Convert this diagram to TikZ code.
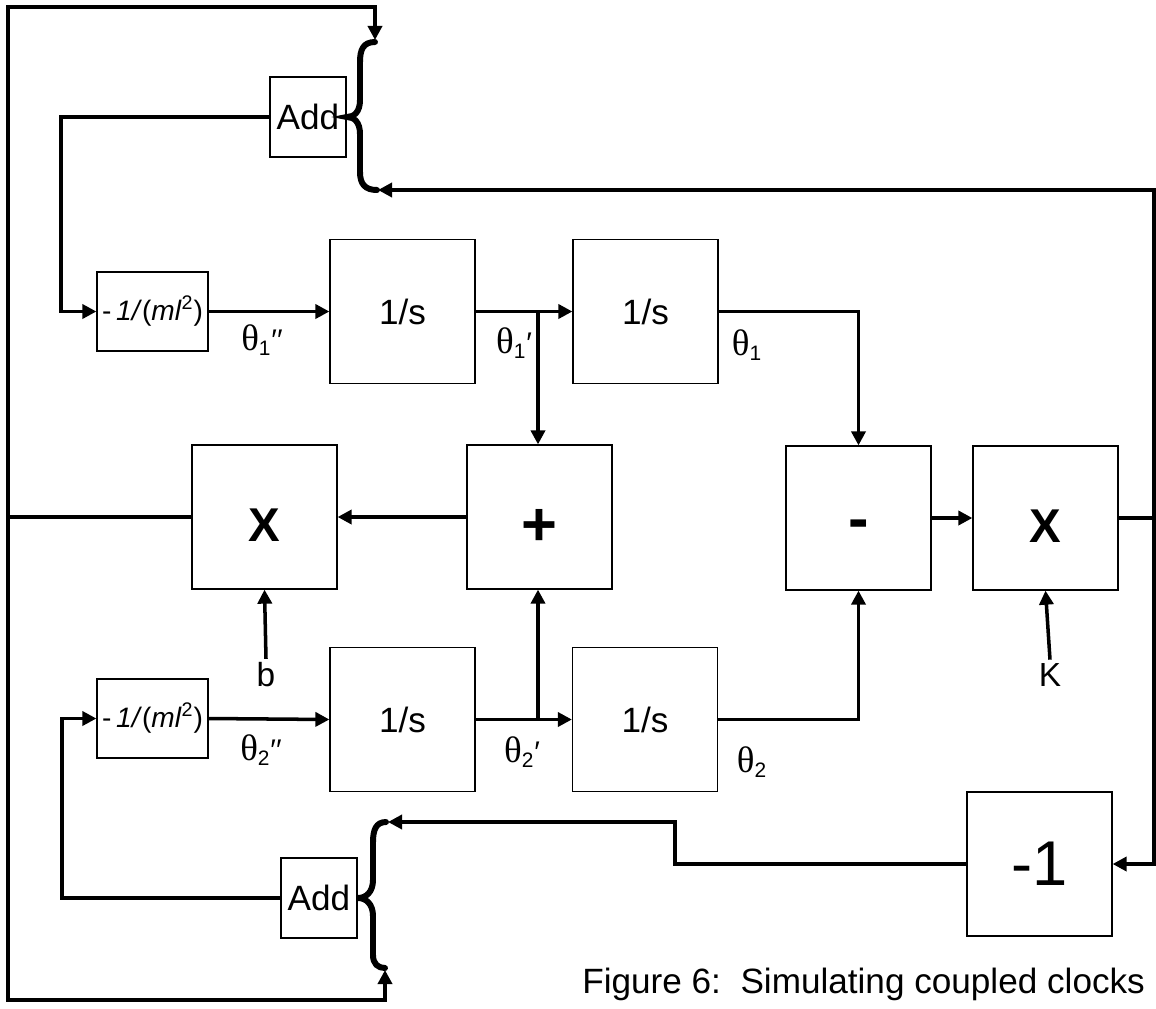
\documentclass[tikz,border=0pt]{standalone}
\usepackage{fontspec}
\setmainfont{Liberation Sans}
\newfontfamily\thfont{Liberation Serif}
\usetikzlibrary{arrows.meta,calc}
\newcommand{\thl}[2]{{\thfont\fontsize{21}{22}\selectfont θ}\textsubscript{#1}#2}
\begin{document}
\begin{tikzpicture}[x=0.02cm,y=-0.02cm,
  blk/.style={draw,line width=0.7pt,minimum width=2.9cm,minimum height=2.88cm,inner sep=0pt,font=\fontsize{20}{22}\selectfont},
  flat/.style={text height=0pt,text depth=0pt},
  big/.style={flat,font=\fontsize{27}{30}\selectfont\bfseries},
  bigger/.style={flat,font=\fontsize{35}{38}\selectfont\bfseries},
  huge/.style={font=\fontsize{36}{40}\selectfont},
  gain/.style={draw,line width=0.7pt,minimum width=2.22cm,minimum height=1.58cm,inner sep=0pt,font=\fontsize{16}{18}\selectfont},
  addb/.style={draw,line width=0.7pt,minimum width=1.52cm,minimum height=1.6cm,inner sep=0pt,font=\fontsize{20}{22}\selectfont},
  conn/.style={line width=2pt},
  arr/.style={conn,-{Triangle[length=8pt,width=8pt]}},
  brace/.style={line width=3.4pt,line cap=round},
  lbl/.style={inner sep=0pt,font=\fontsize{17}{19}\selectfont}
]
\useasboundingbox (0,0) rectangle (1156,1008);

% blocks
\node[addb] (add1) at (308,117) {Add};
\node[gain] (g1) at (152.5,311.5) {-\,\textit{1/}(\textit{ml}\textsuperscript{2})};
\node[blk] (i1) at (402.5,311.5) {1/s};
\node[blk] (i2) at (645.5,311.5) {1/s};
\node[blk,big] (x1) at (264.5,517) {\raisebox{-14pt}{X}};
\node[blk,bigger] (plus) at (539.5,517) {\raisebox{-16pt}{+}};
\node[blk,bigger] (minus) at (858.5,518) {\raisebox{-12pt}{-}};
\node[blk,big] (x2) at (1045.5,518) {\raisebox{-14pt}{X}};
\node[gain] (g2) at (152.5,718.5) {-\,\textit{1/}(\textit{ml}\textsuperscript{2})};
\node[blk] (i3) at (402.5,719.5) {1/s};
\node[blk] (i4) at (645,719.5) {1/s};
\node[blk,huge] (neg) at (1039.5,864) {-1};
\node[addb] (add2) at (319,898) {Add};

% labels
\node[lbl] (t1pp) at (262,340) {\thl{1}{′′}};
\node[lbl] (t1p) at (514,343) {\thl{1}{′}};
\node[lbl] (t1) at (747,345) {\thl{1}{}};
\node[lbl] (t2pp) at (261,750) {\thl{2}{′′}};
\node[lbl] (t2p) at (522,752) {\thl{2}{′}};
\node[lbl] (t2) at (752,762) {\thl{2}{}};
\node[lbl,font=\fontsize{19}{20}\selectfont] (b) at (266,675) {b};
\node[lbl,font=\fontsize{19}{20}\selectfont] (K) at (1050,675) {K};
\node[inner sep=0pt,anchor=base west,font=\fontsize{20}{24}\selectfont] (cap) at (582,993) {Figure 6:\ \ Simulating coupled clocks};

% braces
\draw[brace] (375,42) .. controls (363,42) and (360,50) .. (360,62) -- (360,100)
  .. controls (360,112) and (354,117) .. (347,117)
  .. controls (354,117) and (360,122) .. (360,134) -- (360,172)
  .. controls (360,184) and (365,190) .. (377,190);
\draw[brace] (386,822) .. controls (376,822) and (373,830) .. (373,842) -- (373,880)
  .. controls (373,892) and (366,898) .. (358,898)
  .. controls (366,898) and (373,904) .. (373,916) -- (373,955)
  .. controls (373,964) and (378,968) .. (385,968);

% coordinates
\coordinate (b1top) at (375,40);
\coordinate (b1bot) at (378,190);
\coordinate (b2top) at (388,822);
\coordinate (b2bot) at (385,970);
\coordinate (jl) at (8,517);
\coordinate (jr) at (1154,518);
\coordinate (c1) at (375,7);
\coordinate (c2) at (385,1000);
\coordinate (k1) at (61,117);
\coordinate (k2) at (62,898);
\coordinate (k3) at (675,864);
\coordinate (br1) at (538,311.5);
\coordinate (br2) at (538,719.5);

% connectors
\draw[conn] (x1.west) -- (jl);
\draw[arr] (jl) |- (c1) -- (b1top);
\draw[arr] (jl) |- (c2) -- (b2bot);
\draw[arr] (add1.west) -- (k1) |- (g1.west);
\draw[arr] (g1.east) -- (i1.west);
\draw[arr] (i1.east) -- (i2.west);
\draw[arr] (br1) -- (br1 |- plus.north);
\draw[arr] (i2.east) -| (minus.north);
\draw[arr] (plus.west) -- (x1.east);
\draw[arr] (minus.east) -- (x2.west);
\draw[conn] (x2.east) -- (jr);
\draw[arr] (jr) |- (b1bot);
\draw[arr] (jr) |- (neg.east);
\draw[arr] ([yshift=2pt]K.north) -- (x2.south);
\draw[arr] ([yshift=2pt]b.north) -- (x1.south);
\draw[arr] (add2.west) -- (k2) |- (g2.west);
\draw[arr] (g2.east) -- (i3.west);
\draw[arr] (i3.east) -- (i4.west);
\draw[arr] (br2) -- (br2 |- plus.south);
\draw[arr] (i4.east) -| (minus.south);
\draw[arr] (neg.west) -- (k3) |- (b2top);
\end{tikzpicture}
\end{document}
